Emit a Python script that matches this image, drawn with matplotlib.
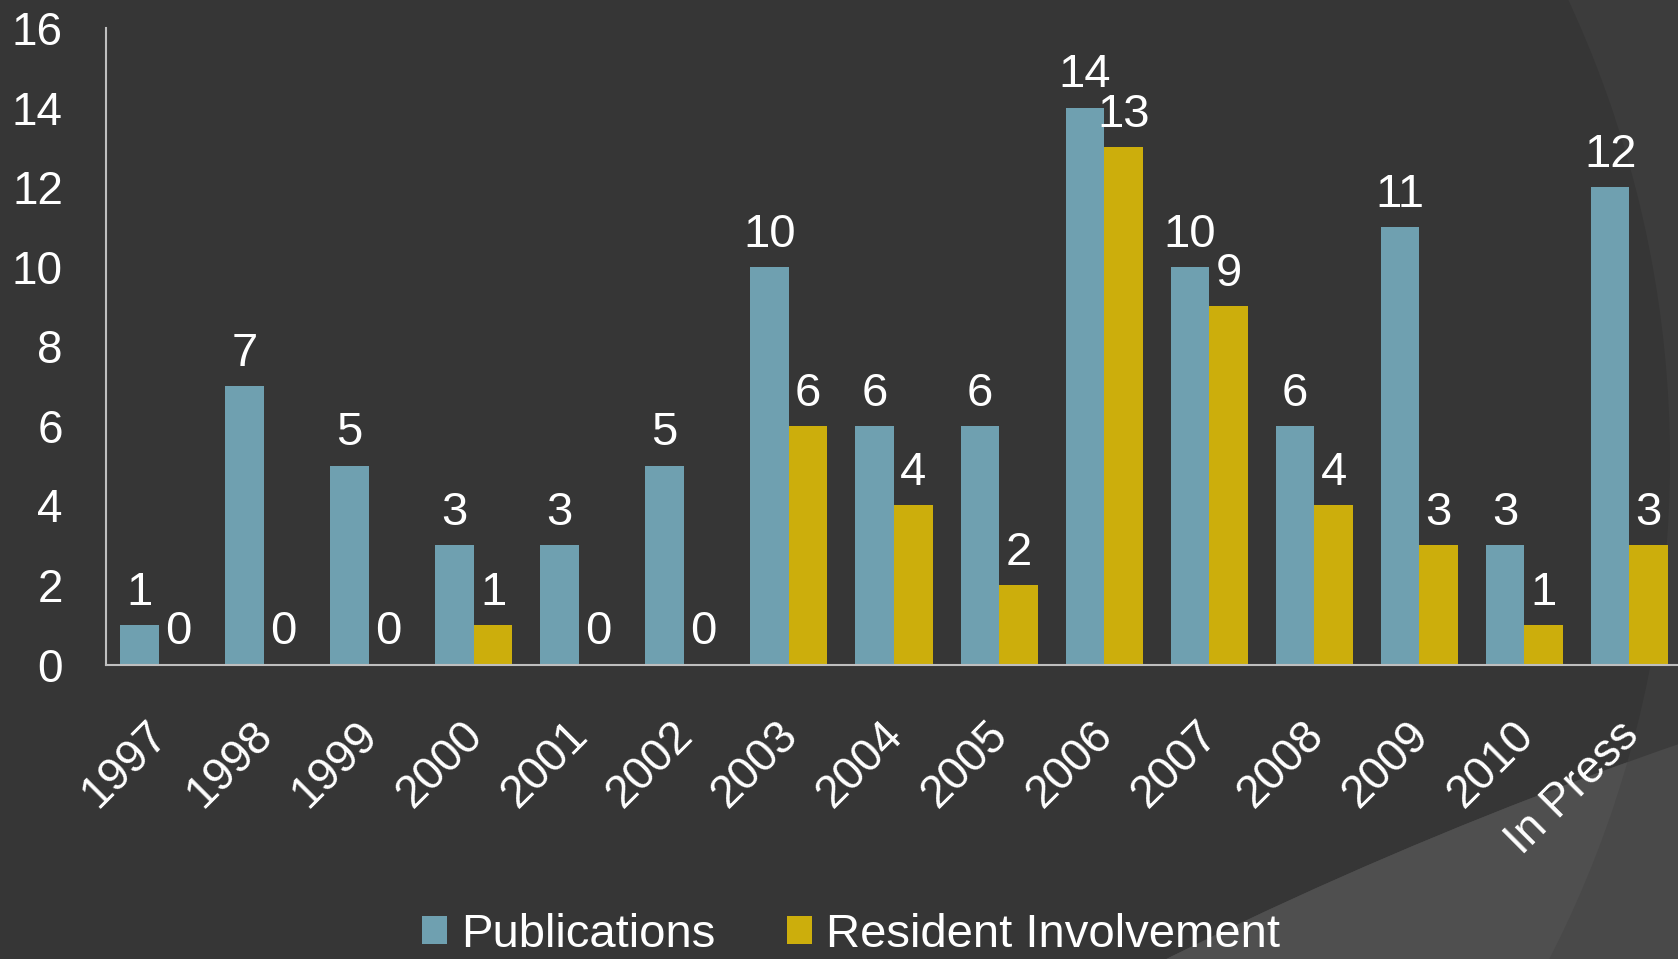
import numpy as np
import matplotlib.pyplot as plt
from matplotlib.patches import Circle
from matplotlib.transforms import ScaledTranslation

plt.rcParams['font.family'] = ['Liberation Sans', 'DejaVu Sans']

years = ['1997', '1998', '1999', '2000', '2001', '2002', '2003', '2004',
         '2005', '2006', '2007', '2008', '2009', '2010', 'In Press']
publications = [1, 7, 5, 3, 3, 5, 10, 6, 6, 14, 10, 6, 11, 3, 12]
resident = [0, 0, 0, 1, 0, 0, 6, 4, 2, 13, 9, 4, 3, 1, 3]

W, H = 1678, 959
fig = plt.figure(figsize=(W / 100, H / 100), dpi=100)
fig.patch.set_facecolor('#3c3c3c')

# slide background shapes, in display pixels (dpi 100)
big = Circle((578, H - 460), 1092, transform=None, facecolor='#363636',
             edgecolor='none', zorder=-3)
fig.patches.append(big)
low_out = Circle((3100, H - 4850), 4345, transform=None, facecolor='#494949',
                 edgecolor='none', zorder=-2)
fig.patches.append(low_out)
low_in = Circle((3100, H - 4850), 4345, transform=None, facecolor='#4f4f4f',
                edgecolor='none', zorder=-1)
low_in.set_clip_path(big)
fig.patches.append(low_in)

ax = fig.add_axes([106 / W, (H - 664.5) / H, 1576 / W, (664.5 - 28) / H])
ax.set_facecolor('none')

x = np.arange(len(years))
bw = 0.367
b1 = ax.bar(x - bw / 2, publications, bw, color='#6fa0b0', label='Publications')
b2 = ax.bar(x + bw / 2, resident, bw, color='#ccae0c', label='Resident Involvement')

for bars, vals in ((b1, publications), (b2, resident)):
    for b, v in zip(bars, vals):
        ax.annotate(str(v), (b.get_x() + b.get_width() / 2, v), xytext=(0, 14.5),
                    textcoords='offset points', ha='center', va='baseline',
                    color='white', fontsize=34)

ax.set_xlim(-0.5, len(years) - 0.5)
ax.set_ylim(0, 16)
ax.set_yticks(range(0, 17, 2))
ax.set_xticks(x)
ax.set_xticklabels(years, rotation=45, ha='right', rotation_mode='anchor')
ax.tick_params(axis='both', length=0, colors='white', labelsize=33)
ax.tick_params(axis='y', pad=31)
ax.tick_params(axis='x', pad=35)
shift = ScaledTranslation(-0.13, 0, fig.dpi_scale_trans)
for lab in ax.get_xticklabels():
    lab.set_transform(lab.get_transform() + shift)

for s in ('top', 'right'):
    ax.spines[s].set_visible(False)
for s in ('left', 'bottom'):
    ax.spines[s].set_color('#bfbfbf')
    ax.spines[s].set_linewidth(1.5)

fig.legend(handles=[b1, b2], loc='center', bbox_to_anchor=(851 / W, 1 - 935 / H),
           ncol=2, frameon=False, fontsize=34, labelcolor='white',
           handlelength=0.53, handleheight=0.53, handletextpad=0.3,
           columnspacing=1.5, borderpad=0.1)

fig.savefig('out.png', dpi=100, facecolor=fig.get_facecolor())
